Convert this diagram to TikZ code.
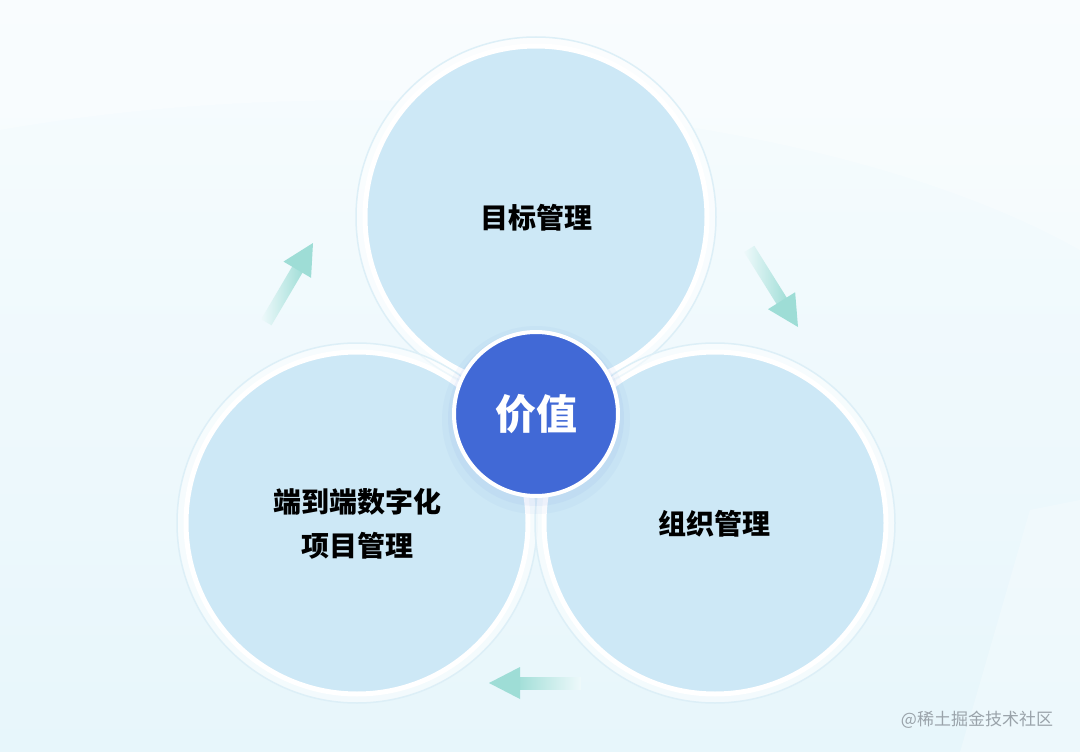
\documentclass[tikz,border=0pt]{standalone}
\usepackage{fontspec}
\usepackage{xcolor}
\usetikzlibrary{arrows.meta,positioning,calc}
\newfontfamily\cjk{Noto Sans CJK SC}
\definecolor{paperhigh}{HTML}{F7FCFE}
\definecolor{paperlow}{HTML}{E7F6FB}
\definecolor{ringfill}{HTML}{CDE8F6}
\definecolor{ringedge}{HTML}{DDEFF7}
\definecolor{valueblue}{HTML}{4169D6}
\definecolor{flowteal}{HTML}{9EDDD6}
\definecolor{flowfade}{HTML}{EEF9FB}
\definecolor{marktext}{HTML}{9AA3AA}

\begin{document}
\begin{tikzpicture}[
  x=1pt,y=-1pt,
  font=\cjk\bfseries,
  areabox/.style={
    circle,
    fill=ringfill,
    draw=white,
    line width=5pt,
    minimum size=342pt,
    inner sep=0pt
  },
  halo/.style={circle,draw=ringedge,line width=1.5pt,fill=white,fill opacity=0.5,minimum size=360pt,inner sep=0pt},
  areatext/.style={font=\cjk\bfseries\fontsize{28}{44}\selectfont,align=center},
  core/.style={
    circle,
    fill=valueblue,
    draw=white,
    line width=4pt,
    minimum size=164pt,
    text=white,
    font=\cjk\bfseries\fontsize{41}{48}\selectfont
  }
]
  \useasboundingbox (0,0) rectangle (1080,752);
  \shade[top color=paperhigh,bottom color=paperlow] (0,0) rectangle (1080,752);
  \fill[white,opacity=0.3] (0,130) .. controls (400,60) and (850,120) .. (1080,250) -- (1080,0) -- (0,0) -- cycle;
  \fill[white,opacity=0.25] (1030,510) -- (1080,500) -- (1080,752) -- (960,752) -- cycle;

  % three management areas
  \node[halo] at (536,217) {};
  \node[halo] at (357,523) {};
  \node[halo] at (715,523) {};
  \node[areabox] (goal) at (536,217) {};
  \node[areabox] (proj) at (357,523) {};
  \node[areabox] (org) at (715,523) {};
  \node[areatext] (goaltxt) at (536,218) {目标管理};
  \node[areatext] (projtxt) at (357,524) {端到端数字化\\项目管理};
  \node[areatext] (orgtxt) at (714,524) {组织管理};

  % value in the middle
  \fill[valueblue,opacity=0.04] (536,420) circle (94);
  \fill[valueblue,opacity=0.05] (536,418) circle (88);
  \node[core] (value) at (536,414) {价值};

  % cycle arrows: tip, canvas angle
  \coordinate (f1e) at (313,243);
  \coordinate (f2e) at (798,327);
  \coordinate (f3e) at (489,683);
  \foreach \e/\a in {f1e/59.5,f2e/-58}{
    \begin{scope}[shift={(\e)},rotate=\a]
      \shade[left color=flowfade,right color=flowteal] (-92,-6) rectangle (-26,6);
      \fill[flowteal] (0,0) -- (-31,-16) -- (-31,16) -- cycle;
    \end{scope}
  }
  \begin{scope}[shift={(f3e)}]
    \shade[left color=flowteal,right color=flowfade] (26,-6) rectangle (92,6);
    \fill[flowteal] (0,0) -- (31,-16) -- (31,16) -- cycle;
  \end{scope}

  \node[font=\cjk\fontsize{17}{20}\selectfont,text=marktext] (mark) at (977,720) {@稀土掘金技术社区};
\end{tikzpicture}
\end{document}
